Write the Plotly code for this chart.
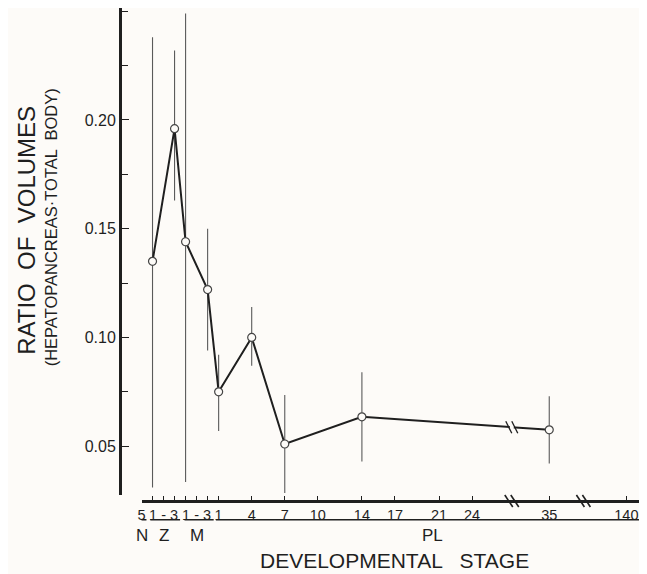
import plotly.graph_objects as go

# ---------------- data ----------------
# stage order on the axis (N = nauplius, Z = zoea, M = mysis, PL = postlarva day)
axis_stages = ["N5", "Z1", "Z2", "Z3", "M1", "M2", "M3",
               "PL1", "PL4", "PL7", "PL10", "PL14", "PL17", "PL21", "PL24", "PL35", "PL140"]
axis_ticktext = ["5", "", "1 - 3", "", "", "1 - 3", "", "1", "4", "7", "10", "14", "17", "21", "24", "35", "140"]

point_stages = ["Z1", "Z3", "M1", "M3", "PL1", "PL4", "PL7", "PL14", "PL35"]
ratio = [0.135, 0.196, 0.144, 0.122, 0.075, 0.100, 0.051, 0.0635, 0.0575]
upper = [0.238, 0.232, 0.249, 0.150, 0.092, 0.114, 0.0735, 0.084, 0.073]
lower = [0.031, 0.163, 0.0335, 0.094, 0.057, 0.087, 0.0285, 0.043, 0.042]

y_tickvals = [0.05, 0.10, 0.15, 0.20]
y_ticktext = ["0.05", "0.10", "0.15", "0.20"]


# ---------------- scale (ordinal early stages, PL days, broken axis after 24) ----------------
EARLY = ["N5", "Z1", "Z2", "Z3", "M1", "M2", "M3"]
BREAK_AT = 24
BREAK_LEN = 7


def stage_x(stage):
    if stage in EARLY:
        return EARLY.index(stage) - 6
    day = int(stage[2:])
    if day <= BREAK_AT:
        return day
    if day <= 35:
        return BREAK_AT + BREAK_LEN
    return BREAK_AT + 2 * BREAK_LEN


tick_x = [stage_x(s) for s in axis_stages]
px = [stage_x(s) for s in point_stages]
err_plus = [u - r for u, r in zip(upper, ratio)]
err_minus = [r - l for r, l in zip(ratio, lower)]

INK = "#1f1f1f"
BG = "#fdfbf8"
FONT = "Liberation Sans"

fig = go.Figure()

# error bars
fig.add_trace(go.Scatter(
    x=px, y=ratio, mode="markers",
    marker=dict(size=1, color="rgba(0,0,0,0)"),
    error_y=dict(type="data", symmetric=False, array=err_plus, arrayminus=err_minus,
                 thickness=1.1, width=0, color="#5a5a5a"),
    cliponaxis=False, showlegend=False, hoverinfo="skip"))

# mean line with open circles
fig.add_trace(go.Scatter(
    x=px, y=ratio, mode="lines+markers",
    line=dict(color=INK, width=2),
    marker=dict(size=8, color=BG, line=dict(color="#444444", width=1.2)),
    cliponaxis=False, showlegend=False))

shapes = []
# axis break marks (upper-left to lower-right strokes)
for bx in [BREAK_AT + BREAK_LEN / 2 + 0.1, BREAK_AT + 1.5 * BREAK_LEN - 0.4]:
    for off in (-3, 3):
        shapes.append(dict(type="line", xref="x", yref="paper",
                           xsizemode="pixel", ysizemode="pixel", xanchor=bx, yanchor=0,
                           x0=off - 4, x1=off + 4, y0=6, y1=-6,
                           line=dict(color=INK, width=1.6), layer="above"))
# break mark on the data line (between PL14 and PL35)
bx = BREAK_AT + BREAK_LEN / 2 + 0.1
i14, i35 = point_stages.index("PL14"), point_stages.index("PL35")
by = ratio[i14] + (ratio[i35] - ratio[i14]) * (bx - px[i14]) / (px[i35] - px[i14])
shapes.append(dict(type="line", xref="x", yref="y", xsizemode="pixel", ysizemode="pixel",
                   xanchor=bx, yanchor=by, x0=-2, x1=2, y0=0.3, y1=-0.3,
                   line=dict(color=BG, width=6), layer="above"))
for off in (-3, 3):
    shapes.append(dict(type="line", xref="x", yref="y", xsizemode="pixel", ysizemode="pixel",
                       xanchor=bx, yanchor=by, x0=off - 3, x1=off + 3, y0=6, y1=-6,
                       line=dict(color=INK, width=1.3), layer="above"))

# group underlines below tick labels
UY = -0.038
groups = [("N5", "N5", -0.45, 0.45), ("Z1", "Z3", -0.2, 0.5), ("M1", "M3", -0.1, 0.55),
          ("PL1", "PL140", -0.25, 2.0)]
for a, b, da, db in groups:
    shapes.append(dict(type="line", xref="x", yref="paper",
                       x0=stage_x(a) + da, x1=stage_x(b) + db, y0=UY, y1=UY,
                       line=dict(color=INK, width=1.3)))

annotations = [
    dict(text="RATIO  OF  VOLUMES", xref="paper", yref="paper", x=-0.1765, y=0.55,
         xanchor="center", yanchor="middle",
         textangle=-90, showarrow=False, font=dict(family=FONT, size=24, color=INK)),
    dict(text="(HEPATOPANCREAS·TOTAL  BODY)", xref="paper", yref="paper", x=-0.131, y=0.555,
         xanchor="center", yanchor="middle",
         textangle=-90, showarrow=False, font=dict(family=FONT, size=16.5, color=INK)),
    dict(text="DEVELOPMENTAL   STAGE", xref="paper", yref="paper", x=0.52, y=-0.12,
         xanchor="center", yanchor="middle",
         showarrow=False, font=dict(family=FONT, size=21, color=INK)),
]
for lab, xv in [("N", stage_x("N5")), ("Z", stage_x("Z2")), ("M", stage_x("M2")), ("PL", 20.4)]:
    annotations.append(dict(text=lab, xref="x", yref="paper", x=xv, y=-0.069,
                            xanchor="center", yanchor="middle",
                            showarrow=False, font=dict(family=FONT, size=17, color=INK)))

# page body has an 8px default margin: shift the figure so plot area lands where the reference has it
fig.update_layout(
    width=639, height=566, autosize=False,
    margin=dict(l=112, r=0, t=0, b=73),
    paper_bgcolor=BG, plot_bgcolor=BG,
    font=dict(family=FONT, color=INK),
    showlegend=False,
    shapes=shapes, annotations=annotations,
    xaxis=dict(domain=[0.0408, 1], anchor="free", position=0,
               range=[-6, 39.87], showgrid=False, zeroline=False,
               showline=True, linewidth=3, linecolor=INK,
               tickmode="array", tickvals=tick_x, ticktext=axis_ticktext,
               ticks="inside", ticklen=4, tickwidth=1.3, tickcolor=INK,
               tickfont=dict(family=FONT, size=14.5, color=INK)),
    yaxis=dict(domain=[0.012, 1], anchor="free", position=0,
               range=[0.0275, 0.2515], showgrid=False, zeroline=False,
               showline=True, linewidth=3, linecolor=INK,
               tickmode="array", tickvals=y_tickvals, ticktext=y_ticktext,
               ticks="inside", ticklen=7, tickwidth=1.3, tickcolor=INK,
               tickfont=dict(family=FONT, size=16, color=INK),
               minor=dict(tick0=0, dtick=0.025, ticks="inside", ticklen=6,
                          tickwidth=1.1, tickcolor=INK, showgrid=False)),
)

fig.write_html("out.html")
